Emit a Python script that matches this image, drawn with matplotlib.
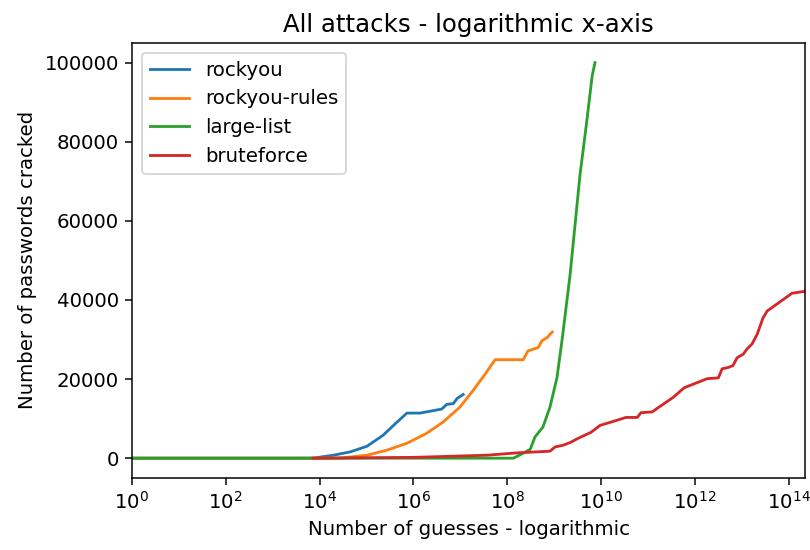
import numpy as np
import matplotlib
matplotlib.use("Agg")
import matplotlib.pyplot as plt
from matplotlib.ticker import NullLocator

plt.rcParams["font.size"] = 10.5

# guesses are stored as log10 exponents, counts as cracked passwords
rockyou_exp = [0, 3.86, 4.29, 4.65, 5.01, 5.35, 5.65, 5.86, 6.14, 6.50, 6.60,
               6.71, 6.85, 6.93, 7.06]
rockyou_cracked = [0, 0, 750, 1580, 3020, 5780, 9120, 11400, 11400, 12200,
                   12400, 13600, 13800, 15100, 16100]

rules_exp = [0, 4.43, 5.01, 5.43, 5.86, 6.28, 6.63, 6.99, 7.27, 7.53, 7.74,
             8.34, 8.44, 8.66, 8.74, 8.85, 8.96]
rules_cracked = [0, 0, 750, 2010, 3770, 6280, 9120, 12900, 17100, 21300,
                 24900, 24900, 27100, 28000, 29700, 30500, 31900]

large_exp = [0, 8.13, 8.34, 8.49, 8.59, 8.76, 8.91, 9.06, 9.18, 9.34, 9.55,
             9.70, 9.81, 9.87]
large_cracked = [0, 0, 1260, 2260, 5360, 7870, 12900, 20400, 31000, 46500,
                 71600, 85700, 96700, 100000]

brute_exp = [3.86, 6.00, 7.57, 8.20, 8.91, 9.02, 9.19, 9.35, 9.51, 9.78, 9.98,
             10.26, 10.53, 10.77, 10.85, 11.09, 11.22, 11.54, 11.77, 12.26,
             12.50, 12.58, 12.70, 12.81, 12.90, 13.03, 13.11, 13.22, 13.33,
             13.45, 13.54, 14.07, 14.35]
brute_cracked = [0, 200, 750, 1340, 1760, 2850, 3270, 4000, 5020, 6500, 8300,
                 9300, 10300, 10300, 11500, 11700, 12800, 15400, 17800, 20100,
                 20300, 22600, 22900, 23400, 25400, 26300, 27600, 28900, 31400,
                 35400, 37200, 41700, 42200]

series = [("rockyou", rockyou_exp, rockyou_cracked),
          ("rockyou-rules", rules_exp, rules_cracked),
          ("large-list", large_exp, large_cracked),
          ("bruteforce", brute_exp, brute_cracked)]

fig = plt.figure(figsize=(6, 550 / 135), dpi=135)
ax = fig.add_axes([0.163, 0.131, 0.831, 0.791])

for name, ex, cracked in series:
    ax.plot(10.0 ** np.array(ex), cracked, label=name)

ax.set_xscale("log")
ax.set_xlim(1, 10 ** 14.35)
ax.set_xticks([10.0 ** k for k in range(0, 15, 2)])
ax.xaxis.set_minor_locator(NullLocator())
ax.set_title("All attacks - logarithmic x-axis", fontsize=13)
ax.set_xlabel("Number of guesses - logarithmic")
ax.set_ylabel("Number of passwords cracked")
ax.legend(loc="upper left")

fig.savefig("out.png", dpi=135)
